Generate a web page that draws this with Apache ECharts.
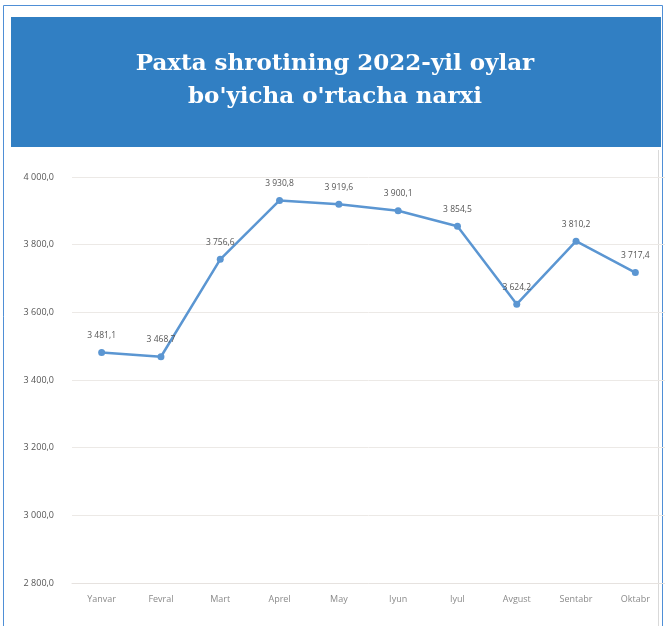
<!DOCTYPE html>
<html>
<head>
<meta charset="utf-8">
<script src="https://cdn.jsdelivr.net/npm/echarts@6/dist/echarts.min.js"></script>
<style>
  html, body { margin: 0; padding: 0; background: #fff; }
  #main { width: 665px; height: 626px; }
</style>
</head>
<body>
<div id="main"></div>
<script>
// monthly averages, 2022
var months = ['Yanvar', 'Fevral', 'Mart', 'Aprel', 'May', 'Iyun', 'Iyul', 'Avgust', 'Sentabr', 'Oktabr'];
var prices = [3481.1, 3468.7, 3756.6, 3930.8, 3919.6, 3900.1, 3854.5, 3624.2, 3810.2, 3717.4];
var yTicks = [2800, 3000, 3200, 3400, 3600, 3800, 4000];
var titleText = 'Paxta shrotining 2022-yil oylar\nbo\'yicha o\'rtacha narxi';

// "3 481,1" style
function fmt(v) {
    var s = v.toFixed(1).split('.');
    return s[0].replace(/\B(?=(\d{3})+(?!\d))/g, ' ') + ',' + s[1];
}

var chart = echarts.init(document.getElementById('main'));

chart.setOption({
    animation: false,
    graphic: [{
        type: 'rect',
        z: -10,
        shape: { x: 3.5, y: 5.5, width: 659, height: 625 },
        style: { fill: 'none', stroke: '#4f8fd6', lineWidth: 1 }
    }, {
        type: 'rect',
        z: -9,
        shape: { x: 11, y: 17, width: 650, height: 130 },
        style: { fill: '#317fc3' }
    }, {
        type: 'line',
        z: -9,
        shape: { x1: 658.5, y1: 150, x2: 658.5, y2: 626 },
        style: { stroke: '#d9d9d9', lineWidth: 1 }
    }, {
        type: 'text',
        z: 10,
        x: 335,
        y: 81,
        style: {
            text: titleText,
            fill: '#ffffff',
            font: 'bold 23px "DejaVu Serif"',
            lineHeight: 33,
            align: 'center',
            verticalAlign: 'middle'
        }
    }],
    grid: {
        left: 72,
        right: -1,
        top: 177,
        bottom: 43
    },
    xAxis: {
        type: 'category',
        data: months,
        boundaryGap: true,
        axisLine: { lineStyle: { color: '#e6e2df', width: 1 } },
        axisTick: { show: false },
        axisLabel: {
            color: '#8a8a8a',
            fontFamily: 'Open Sans',
            fontSize: 9,
            margin: 12
        }
    },
    yAxis: {
        type: 'value',
        min: yTicks[0],
        max: yTicks[yTicks.length - 1],
        interval: 200,
        axisLine: { show: false },
        axisTick: { show: false },
        splitLine: { lineStyle: { color: '#ece9e6', width: 1 } },
        axisLabel: {
            color: '#555555',
            fontFamily: 'Open Sans',
            fontSize: 9,
            margin: 18,
            formatter: function(v) { return fmt(v); }
        }
    },
    series: [{
        type: 'line',
        data: prices,
        symbol: 'circle',
        symbolSize: 7,
        lineStyle: { color: '#5b96d2', width: 2.5 },
        itemStyle: { color: '#5b96d2' },
        label: {
            show: true,
            position: 'top',
            distance: 9,
            color: '#555555',
            fontFamily: 'Open Sans',
            fontSize: 8.5,
            formatter: function(p) { return fmt(p.value); }
        }
    }]
});
</script>
</body>
</html>
